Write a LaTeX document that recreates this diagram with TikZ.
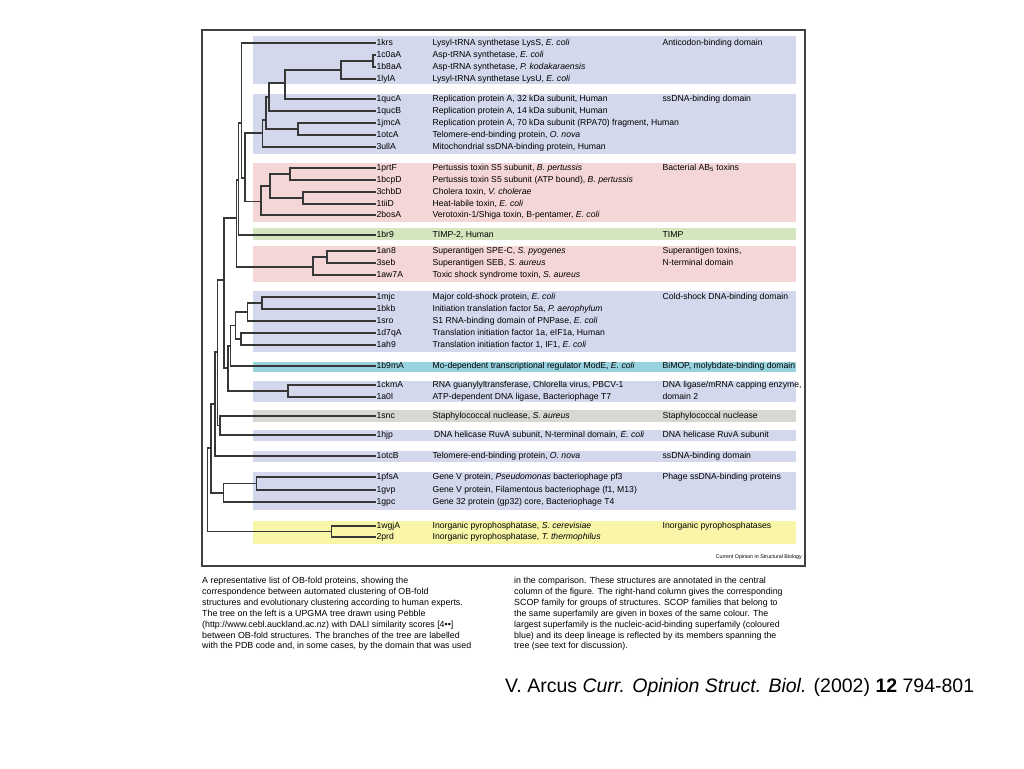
\documentclass[tikz,border=0pt]{standalone}
\usepackage{fontspec}
\setmainfont{Liberation Sans}
\usepackage[dvipsnames,svgnames]{xcolor}
\usepackage{tikz}
\usetikzlibrary{positioning}
\definecolor{blueb}{RGB}{211,216,236}
\definecolor{pinkb}{RGB}{245,214,214}
\definecolor{greenb}{RGB}{211,230,189}
\definecolor{cyanb}{RGB}{151,211,223}
\definecolor{greyb}{RGB}{216,216,211}
\definecolor{yellowb}{RGB}{250,246,168}
\definecolor{treeline}{RGB}{55,55,55}
\tikzset{branch/.style={line width=1.2pt,draw=treeline},
  rowtext/.style={inner sep=0.4pt,anchor=west,text height=6.3pt,text depth=1.9pt,
    font=\fontsize{8.65}{10}\selectfont},
  captext/.style={inner sep=0pt,anchor=base west,font=\fontsize{8.85}{10.8}\selectfont}}

\begin{document}
\begin{tikzpicture}[x=1pt,y=-1pt]
  \useasboundingbox[fill=white] (0,0) rectangle (1024,768);
  % coloured boxes for the SCOP families
  \fill[blueb] (253,36) rectangle (796,84);
  \fill[blueb] (253,94) rectangle (796,154);
  \fill[pinkb] (253,163) rectangle (796,222);
  \fill[greenb] (253,228) rectangle (796,240);
  \fill[pinkb] (253,246) rectangle (796,282);
  \fill[blueb] (253,291) rectangle (796,352);
  \fill[cyanb] (253,362) rectangle (796,372);
  \fill[blueb] (253,381) rectangle (796,402);
  \fill[greyb] (253,410) rectangle (796,422);
  \fill[blueb] (253,430) rectangle (796,441);
  \fill[blueb] (253,451) rectangle (796,462);
  \fill[blueb] (253,472) rectangle (796,510);
  \fill[yellowb] (253,521) rectangle (796,544);
  \draw[line width=1.3pt,draw=black!75] (202,30) rectangle (805,566);
  % rows: code / structure / family / y
  \foreach \c/\d/\f/\y in {
    1krs/{Lysyl-tRNA synthetase LysS, \textit{E. coli}}/{Anticodon-binding domain}/43,
    1c0aA/{Asp-tRNA synthetase, \textit{E. coli}}/{}/55,
    1b8aA/{Asp-tRNA synthetase, \textit{P. kodakaraensis}}/{}/67,
    1lylA/{Lysyl-tRNA synthetase LysU, \textit{E. coli}}/{}/79,
    1qucA/{Replication protein A, 32 kDa subunit, Human}/{ssDNA-binding domain}/99,
    1qucB/{Replication protein A, 14 kDa subunit, Human}/{}/111,
    1jmcA/{Replication protein A, 70 kDa subunit (RPA70) fragment, Human}/{}/123,
    1otcA/{Telomere-end-binding protein, \textit{O. nova}}/{}/135,
    3ullA/{Mitochondrial ssDNA-binding protein, Human}/{}/147,
    1prtF/{Pertussis toxin S5 subunit, \textit{B. pertussis}}/{Bacterial AB\textsubscript{5} toxins}/168,
    1bcpD/{Pertussis toxin S5 subunit (ATP bound), \textit{B. pertussis}}/{}/180,
    3chbD/{Cholera toxin, \textit{V. cholerae}}/{}/192,
    1tiiD/{Heat-labile toxin, \textit{E. coli}}/{}/204,
    2bosA/{Verotoxin-1/Shiga toxin, B-pentamer, \textit{E. coli}}/{}/215,
    1br9/{TIMP-2, Human}/{TIMP}/235,
    1an8/{Superantigen SPE-C, \textit{S. pyogenes}}/{Superantigen toxins,}/251,
    3seb/{Superantigen SEB, \textit{S. aureus}}/{N-terminal domain}/263,
    1aw7A/{Toxic shock syndrome toxin, \textit{S. aureus}}/{}/275,
    1mjc/{Major cold-shock protein, \textit{E. coli}}/{Cold-shock DNA-binding domain}/297,
    1bkb/{Initiation translation factor 5a, \textit{P. aerophylum}}/{}/309,
    1sro/{S1 RNA-binding domain of PNPase, \textit{E. coli}}/{}/321,
    1d7qA/{Translation initiation factor 1a, eIF1a, Human}/{}/333,
    1ah9/{Translation initiation factor 1, IF1, \textit{E. coli}}/{}/345,
    1b9mA/{Mo-dependent transcriptional regulator ModE, \textit{E. coli}}/{BiMOP, molybdate-binding domain}/366,
    1ckmA/{RNA guanylyltransferase, Chlorella virus, PBCV-1}/{DNA ligase/mRNA capping enzyme,}/385,
    1a0l/{ATP-dependent DNA ligase, Bacteriophage T7}/{domain 2}/397,
    1snc/{Staphylococcal nuclease, \textit{S. aureus}}/{Staphylococcal nuclease}/416,
    1hjp/{\,DNA helicase RuvA subunit, N-terminal domain, \textit{E. coli}}/{DNA helicase RuvA subunit}/435,
    1otcB/{Telomere-end-binding protein, \textit{O. nova}}/{ssDNA-binding domain}/456,
    1pfsA/{Gene V protein, \textit{Pseudomonas} bacteriophage pf3}/{Phage ssDNA-binding proteins}/477,
    1gvp/{Gene V protein, Filamentous bacteriophage (f1, M13)}/{}/490,
    1gpc/{Gene 32 protein (gp32) core, Bacteriophage T4}/{}/502,
    1wgjA/{Inorganic pyrophosphatase, \textit{S. cerevisiae}}/{Inorganic pyrophosphatases}/526,
    2prd/{Inorganic pyrophosphatase, \textit{T. thermophilus}}/{}/537}
  {
    \node[rowtext] (\c) at (376,\y) {\c};
    \node[rowtext] (d\c) at (432,\y) {\d};
    \node[rowtext] (f\c) at (662,\y) {\f};
  }
  % UPGMA tree, inner branch points
  \coordinate (n1) at (373,61);
  \coordinate (n2) at (341,70);
  \coordinate (n3) at (285,83);
  \coordinate (n4) at (269,97);
  \coordinate (n5) at (298,129);
  \coordinate (n6) at (266,120);
  \coordinate (n7) at (262.5,133);
  \coordinate (n8) at (290,174);
  \coordinate (n9) at (303,198);
  \coordinate (n10) at (270,186);
  \coordinate (n11) at (261,201.5);
  \coordinate (n12) at (245,178);
  \coordinate (n13) at (241.5,123);
  \coordinate (n14) at (238.7,180);
  \coordinate (n15) at (327,257);
  \coordinate (n16) at (313,267);
  \coordinate (n17) at (236.3,218);
  \coordinate (n18) at (262,303);
  \coordinate (n19) at (247.7,312);
  \coordinate (n20) at (241,339);
  \coordinate (n21) at (235.7,325.5);
  \coordinate (n22) at (230.7,346);
  \coordinate (n23) at (288,391);
  \coordinate (n24) at (228,368);
  \coordinate (n25) at (224,280);
  \coordinate (n26) at (220,425.5);
  \coordinate (n27) at (217.5,352);
  \coordinate (n28) at (215,404);
  \coordinate (n29) at (256.7,483.5);
  \coordinate (n30) at (223.3,493);
  \coordinate (n31) at (211,448);
  \coordinate (n32) at (331.7,531.5);
  \coordinate (root) at (207.5,490);
  % branches to the leaves
  \foreach \p/\c in {n1/1c0aA,n1/1b8aA,n2/1lylA,n3/1qucA,n4/1qucB,n5/1jmcA,n5/1otcA,
      n7/3ullA,n13/1krs,n8/1prtF,n8/1bcpD,n9/3chbD,n9/1tiiD,n11/2bosA,n14/1br9,
      n15/1an8,n15/3seb,n16/1aw7A,n18/1mjc,n18/1bkb,n19/1sro,n20/1d7qA,n20/1ah9,
      n22/1b9mA,n23/1ckmA,n23/1a0l,n26/1snc,n26/1hjp,n28/1otcB,n29/1pfsA,n29/1gvp,
      n30/1gpc,n32/1wgjA,n32/2prd}
    \draw[branch] (\p) |- (\c.west);
  % branches between inner points
  \foreach \p/\c in {n2/n1,n3/n2,n4/n3,n6/n4,n6/n5,n7/n6,n10/n8,n10/n9,n11/n10,
      n12/n7,n12/n11,n13/n12,n14/n13,n16/n15,n17/n14,n17/n16,n19/n18,n21/n19,
      n21/n20,n22/n21,n24/n22,n24/n23,n25/n17,n25/n24,n27/n25,n27/n26,n28/n27,
      n30/n29,n31/n28,n31/n30,root/n31,root/n32}
    \draw[branch] (\p) |- (\c);
  \node[inner sep=0pt,anchor=base east,font=\fontsize{5.3}{6}\selectfont] (journal) at (802,558) {Current Opinion in Structural Biology};
  % caption, two columns
  \foreach \t [count=\i from 0] in {
    {A representative list of OB-fold proteins, showing the},
    {correspondence between automated clustering of OB-fold},
    {structures and evolutionary clustering according to human experts.},
    {The tree on the left is a UPGMA tree drawn using Pebble},
    {(http://www.cebl.auckland.ac.nz) with DALI similarity scores [4••]},
    {between OB-fold structures. The branches of the tree are labelled},
    {with the PDB code and, in some cases, by the domain that was used}}
    \node[captext] (capl\i) at (202,{583.9+10.83*\i}) {\t};
  \foreach \t [count=\i from 0] in {
    {in the comparison. These structures are annotated in the central},
    {column of the figure. The right-hand column gives the corresponding},
    {SCOP family for groups of structures. SCOP families that belong to},
    {the same superfamily are given in boxes of the same colour. The},
    {largest superfamily is the nucleic-acid-binding superfamily (coloured},
    {blue) and its deep lineage is reflected by its members spanning the},
    {tree (see text for discussion).}}
    \node[captext] (capr\i) at (514,{583.9+10.83*\i}) {\t};
  \node[inner sep=0pt,anchor=base west,font=\fontsize{19.5}{22}\selectfont] (cite) at (505,692)
    {V. Arcus \textit{Curr. Opinion Struct. Biol.} (2002) \textbf{12} 794-801};
\end{tikzpicture}
\end{document}
